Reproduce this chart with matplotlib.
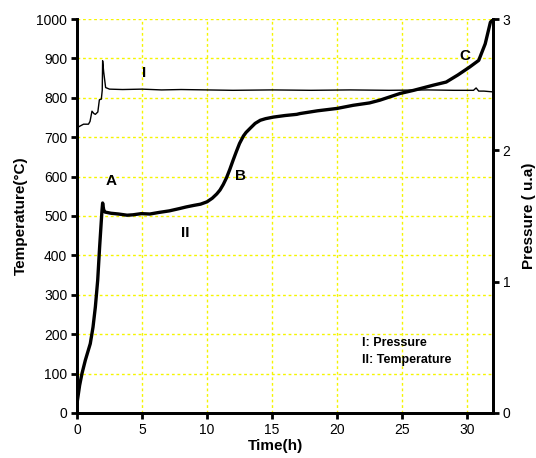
import matplotlib
matplotlib.use("Agg")
import matplotlib.pyplot as plt

plt.rcParams['font.family'] = ['Liberation Sans', 'DejaVu Sans']

# Temperature curve (II), time in h, temperature in °C
temp_time = [0.0, 0.2, 0.38, 0.64, 1.02, 1.23, 1.41, 1.59, 1.74, 1.92, 1.97, 2.05, 2.15,
             2.6, 3.2, 3.85, 4.3, 4.95, 5.6, 6.3, 7.1, 7.9, 8.4, 9.0, 9.5, 10.0, 10.4,
             10.75, 11.0, 11.25, 11.5, 11.75, 12.0, 12.25, 12.5, 12.8, 13.0, 13.3, 13.7, 14.1,
             14.5, 15.1, 16.0, 16.9, 17.15, 18.5, 20.0, 21.25, 22.5, 23.3, 24.85, 25.9,
             27.4, 28.4, 29.3, 30.2, 30.9, 31.4, 31.8, 32.0]
temp_vals = [25, 70, 100, 134, 176, 218, 269, 337, 422, 514, 533, 516, 510,
             507, 505, 502, 503, 506, 505, 509, 513, 519, 523, 527, 530, 536, 545,
             556, 566, 580, 597, 618, 641, 663, 684, 703, 712, 722, 735, 743,
             747, 751, 755, 758, 760, 767, 773, 781, 787, 794, 811, 819,
             832, 840, 858, 878, 895, 937, 992, 998]

# Pressure curve (I), time in h, pressure in u.a.
pres_time = [0.0, 0.05, 0.5, 0.88, 1.0, 1.15, 1.3, 1.41, 1.6, 1.72, 1.87, 1.94, 1.97,
             2.05, 2.2, 2.5, 3.5, 5.0, 6.5, 8.0, 10.0, 12.0, 15.0, 18.0, 21.0, 24.0,
             27.0, 29.0, 30.5, 30.7, 30.9, 31.3, 32.0]
pres_vals = [2.16, 2.175, 2.199, 2.199, 2.22, 2.298, 2.28, 2.274, 2.292, 2.385, 2.39,
             2.457, 2.682, 2.598, 2.478, 2.466, 2.463, 2.466, 2.46, 2.463, 2.46, 2.457,
             2.46, 2.457, 2.46, 2.457, 2.46, 2.457, 2.457, 2.475, 2.451, 2.451, 2.445]

x_ticks = [0, 5, 10, 15, 20, 25, 30]
y_ticks = [0, 100, 200, 300, 400, 500, 600, 700, 800, 900, 1000]
p_ticks = [0, 1, 2, 3]

fig = plt.figure(figsize=(5.36, 4.58), dpi=100)
ax = fig.add_axes([0.1437, 0.0983, 0.7761, 0.8602])
ax2 = ax.twinx()

grid_kw = dict(color='#f5f500', linestyle=(0, (2, 2)), linewidth=1.0, zorder=0)
for yv in y_ticks[1:]:
    ax.axhline(yv, **grid_kw)
for xv in x_ticks[1:]:
    ax.axvline(xv, **grid_kw)

ax.plot(temp_time, temp_vals, color='black', linewidth=2.4, zorder=3)
ax2.plot(pres_time, pres_vals, color='black', linewidth=1.0, zorder=3)

ax.set_xlim(0, 32)
ax.set_ylim(0, 1000)
ax2.set_ylim(0, 3)
ax.set_xticks(x_ticks)
ax.set_yticks(y_ticks)
ax2.set_yticks(p_ticks)

for a in (ax, ax2):
    a.spines['top'].set_visible(False)
    for s in ('left', 'right', 'bottom'):
        a.spines[s].set_linewidth(2.0)
ax.tick_params(direction='out', length=4, width=2, labelsize=10, pad=3)
ax2.tick_params(direction='out', length=4, width=2, labelsize=10, pad=3)

ax.set_xlabel('Time(h)', fontsize=11, fontweight='bold', labelpad=1)
ax.xaxis.set_label_coords(0.476, -0.065)
ax.set_ylabel('Temperature(°C)', fontsize=11, fontweight='bold', labelpad=6)
ax2.set_ylabel('Pressure ( u.a)', fontsize=11, fontweight='bold', labelpad=8)

tk = dict(fontsize=11, fontweight='bold', ha='center', va='center')
ax.text(2.6, 588, 'A', **tk)
ax.text(12.6, 601, 'B', **tk)
ax.text(29.85, 906, 'C', **tk)
ax.text(5.2, 863, 'I', **tk)
ax.text(8.3, 457, 'II', **tk)
ax.text(21.9, 178, 'I: Pressure', fontsize=9, fontweight='bold', ha='left', va='center')
ax.text(21.9, 134, 'II: Temperature', fontsize=9, fontweight='bold', ha='left', va='center')

fig.savefig('out.png', dpi=100)
